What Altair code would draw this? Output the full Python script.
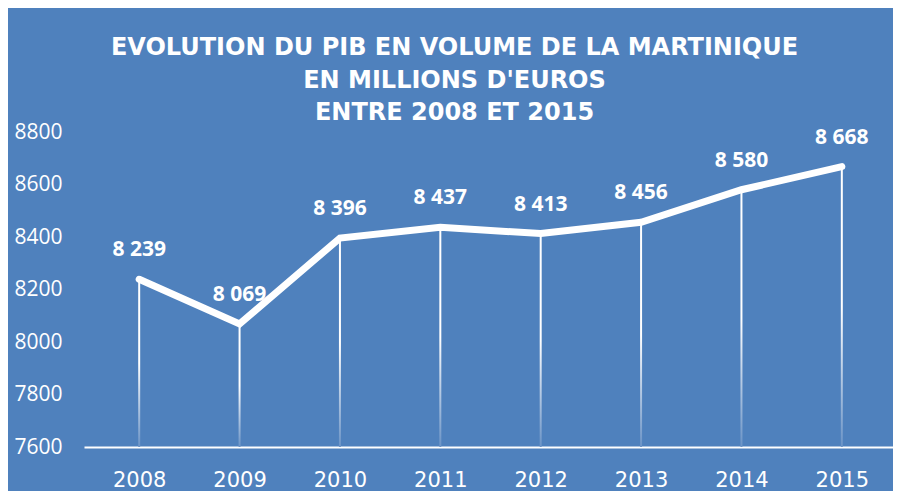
import altair as alt
import pandas as pd

years = [2008, 2009, 2010, 2011, 2012, 2013, 2014, 2015]
pib = [8239, 8069, 8396, 8437, 8413, 8456, 8580, 8668]
labels = [f"{v:,}".replace(",", " ") for v in pib]
y_ticks = [7600, 7800, 8000, 8200, 8400, 8600, 8800]
title_lines = ["EVOLUTION DU PIB EN VOLUME DE LA MARTINIQUE",
               "EN MILLIONS D'EUROS",
               "ENTRE 2008 ET 2015"]

df = pd.DataFrame({"annee": years, "pib": pib, "label": labels, "base": [7600] * len(years)})

BG = "#4F81BD"

x_enc = alt.X("annee:Q",
              scale=alt.Scale(domain=[2007.5, 2015.46], nice=False, zero=False),
              axis=alt.Axis(values=years, format="d", title=None, ticks=False, grid=False,
                            domain=True, domainColor="white", domainWidth=2,
                            labelColor="white", labelFont="DejaVu Sans", labelFontSize=21,
                            labelPadding=22, labelFlush=False, labelOverlap=False))
y_scale = alt.Scale(domain=[7600, 8800], nice=False, zero=False)

base = alt.Chart(df)

drops = base.mark_bar(
    size=2,
    fill=alt.Gradient(gradient="linear", x1=0, y1=0, x2=0, y2=1,
                      stops=[alt.GradientStop(offset=0, color="#FFFFFF"),
                             alt.GradientStop(offset=0.5, color="#FFFFFF"),
                             alt.GradientStop(offset=1, color="#6A93C6")]),
).encode(
    x=x_enc,
    y=alt.Y("pib:Q", scale=y_scale,
            axis=alt.Axis(values=y_ticks, format="d", title=None, ticks=False, grid=False,
                          domain=False, labelColor="white", labelFont="Open Sans",
                          labelFontSize=21, labelPadding=22)),
    y2="base:Q",
)

line = base.mark_line(color="white", strokeWidth=7, strokeCap="round").encode(
    x=alt.X("annee:Q"),
    y=alt.Y("pib:Q"),
)

text = base.mark_text(color="white", font="Open Sans", fontWeight="bold", fontSize=21,
                      baseline="middle", dy=-29).encode(
    x=alt.X("annee:Q"),
    y=alt.Y("pib:Q"),
    text="label:N",
)

chart = alt.layer(drops, line, text).properties(
    width=809,
    height=315,
    autosize=alt.AutoSizeParams(type="none"),
    padding={"left": 76, "top": 124, "right": 0, "bottom": 44},
    title=alt.TitleParams(text=title_lines, anchor="middle", color="white",
                          font="DejaVu Sans", fontWeight="bold", fontSize=24,
                          lineHeight=32.5, dx=-34, offset=-4),
).configure(background=BG).configure_view(stroke=None)

chart.save("out.html", embed_options={"renderer": "svg", "actions": False})
